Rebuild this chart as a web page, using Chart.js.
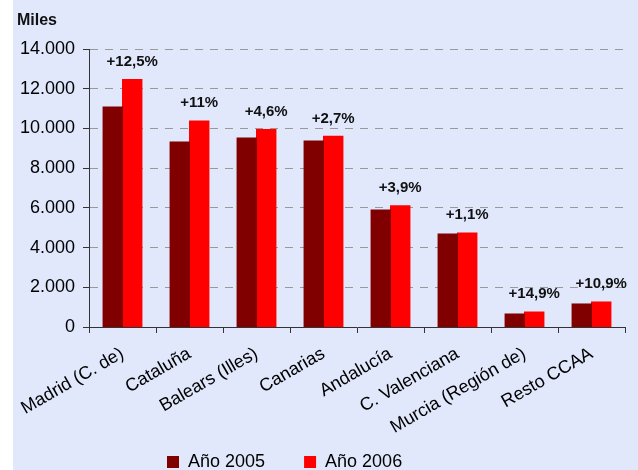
<!DOCTYPE html>
<html lang="es">
<head>
    <meta charset="UTF-8">
    <title>Gasto por comunidad autónoma</title>
    <style>
        html, body { margin: 0; padding: 0; background: #ffffff; overflow: hidden; }
        #wrap { position: absolute; left: 13px; top: 0; width: 625px; height: 504px; }
        #myChart { background: #E1E8FC; }
    </style>
</head>
<body>
    <div id="wrap">
        <canvas id="myChart" width="625" height="504"></canvas>
    </div>

    <script src="https://cdn.jsdelivr.net/npm/chart.js"></script>
    <script>
        // Datos (miles)
        const categorias = ['Madrid (C. de)', 'Cataluña', 'Balears (Illes)', 'Canarias', 'Andalucía', 'C. Valenciana', 'Murcia (Región de)', 'Resto CCAA'];
        const anio2005 = [11080, 9320, 9520, 9370, 5890, 4680, 655, 1160];
        const anio2006 = [12460, 10370, 9940, 9600, 6100, 4730, 755, 1260];
        const incrementos = ['+12,5%', '+11%', '+4,6%', '+2,7%', '+3,9%', '+1,1%', '+14,9%', '+10,9%'];
        const ticksY = [0, 2000, 4000, 6000, 8000, 10000, 12000, 14000];

        const fuente = "'Liberation Sans', Arial, sans-serif";

        // Formato con punto de miles: 14000 -> 14.000
        function miles(v) {
            return String(v).replace(/\B(?=(\d{3})+(?!\d))/g, '.');
        }

        // Etiquetas de incremento sobre la barra de 2006 y el rótulo "Miles"
        const etiquetas = {
            id: 'etiquetas',
            beforeDraw(chart) {
                // colocar la leyenda como en el original
                chart.legend.left = 115;
                chart.legend.top = 414;
            },
            afterDatasetsDraw(chart) {
                const c = chart.ctx;
                const meta = chart.getDatasetMeta(1);
                c.save();
                c.fillStyle = '#111';
                c.font = 'bold 15px ' + fuente;
                c.textAlign = 'center';
                c.textBaseline = 'middle';
                meta.data.forEach((bar, i) => {
                    c.fillText(incrementos[i], bar.x, bar.y - 18);
                });
                c.font = 'bold 16px ' + fuente;
                c.textAlign = 'left';
                c.fillText('Miles', 4, 21);
                c.restore();
            }
        };

        const ctx = document.getElementById('myChart').getContext('2d');
        const myChart = new Chart(ctx, {
            type: 'bar',
            data: {
                labels: categorias,
                datasets: [{
                    label: 'Año 2005',
                    data: anio2005,
                    backgroundColor: '#800000',
                    borderWidth: 0,
                    inflateAmount: 0.5,
                    categoryPercentage: 0.58,
                    barPercentage: 1.0
                }, {
                    label: 'Año 2006',
                    data: anio2006,
                    backgroundColor: '#FF0000',
                    borderWidth: 0,
                    inflateAmount: 0.5,
                    categoryPercentage: 0.58,
                    barPercentage: 1.0
                }]
            },
            options: {
                responsive: false,
                animation: false,
                devicePixelRatio: 1,
                layout: { padding: { top: 49, right: 13, left: 0, bottom: 0 } },
                plugins: {
                    tooltip: { enabled: false },
                    legend: {
                        position: 'bottom',
                        align: 'start',
                        labels: {
                            boxWidth: 12,
                            boxHeight: 12,
                            padding: 39,
                            color: '#000',
                            font: { family: fuente, size: 18 }
                        }
                    }
                },
                scales: {
                    x: {
                        afterFit(scale) {
                            scale.height = 110;
                            // las etiquetas giradas no deben empujar el área del gráfico
                            scale.paddingLeft = 0;
                            scale.paddingRight = 0;
                        },
                        border: { color: '#333', width: 1 },
                        grid: {
                            drawOnChartArea: false,
                            drawTicks: true,
                            tickLength: 6,
                            tickColor: '#333',
                            offset: true
                        },
                        ticks: {
                            autoSkip: false,
                            minRotation: 30,
                            maxRotation: 30,
                            padding: 10,
                            color: '#000',
                            font: { family: fuente, size: 18 }
                        }
                    },
                    y: {
                        min: 0,
                        max: 14000,
                        afterFit(scale) { scale.width = 76; },
                        afterBuildTicks(scale) {
                            scale.ticks = ticksY.map(v => ({ value: v }));
                        },
                        border: { color: '#333', width: 1, dash: [8, 7] },
                        grid: {
                            color: '#999999',
                            lineWidth: 1,
                            drawTicks: true,
                            tickLength: 6,
                            tickColor: '#333',
                            tickBorderDash: []
                        },
                        ticks: {
                            padding: 8,
                            color: '#000',
                            font: { family: fuente, size: 18 },
                            callback: v => miles(v)
                        }
                    }
                }
            },
            plugins: [etiquetas]
        });
    </script>
</body>
</html>
